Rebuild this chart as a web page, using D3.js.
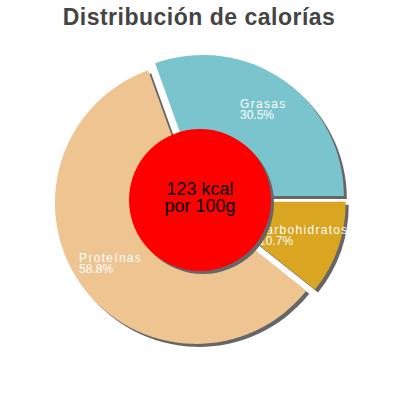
<!DOCTYPE html>
<html>
<head>
<meta charset="utf-8">
<script src="https://cdn.jsdelivr.net/npm/d3@7.9.0/dist/d3.min.js"></script>
<style>
  html, body { margin: 0; padding: 0; background: #fff; }
  svg { display: block; }
  text { font-family: "Liberation Sans", Arial, sans-serif; }
</style>
</head>
<body>
<svg id="chart" width="400" height="400"></svg>
<script>
// data
const categories = ['Grasas', 'carbohidratos', 'Proteínas'];
const percents = [30.5, 10.7, 58.8];
const sliceColors = ['#7ac5cd', '#daa520', '#eec591'];
const centerLines = ['123 kcal', 'por 100g'];
const chartTitle = 'Distribución de calorías';

const width = 400, height = 400;
const cx = 200, cy = 200;
const radius = 141;
const holeRadius = 71;
const sliceOffset = 5;   // every slice is pulled out a bit
const shadowDx = 3, shadowDy = 3;
const labelRadius = 105;

const svg = d3.select('#chart');

const slices = categories.map((name, i) => ({ name, value: percents[i], color: sliceColors[i] }));

// first slice (Grasas) ends at 3 o'clock
const total = d3.sum(percents);
const start = Math.PI / 2 - 2 * Math.PI * percents[0] / total;

const pie = d3.pie().sort(null).value(d => d.value)
  .startAngle(start).endAngle(start + 2 * Math.PI);
const arcs = pie(slices);

const arc = d3.arc().innerRadius(0).outerRadius(radius);

function shift(d) {
  const mid = (d.startAngle + d.endAngle) / 2;
  return [Math.sin(mid) * sliceOffset, -Math.cos(mid) * sliceOffset];
}

const g = svg.append('g').attr('transform', `translate(${cx},${cy})`);

// shadows below everything
g.selectAll('path.shadow')
  .data(arcs)
  .join('path')
  .attr('class', 'shadow')
  .attr('d', arc)
  .attr('fill', '#666')
  .attr('transform', d => {
    const [dx, dy] = shift(d);
    return `translate(${dx + shadowDx},${dy + shadowDy})`;
  });

g.selectAll('path.slice')
  .data(arcs)
  .join('path')
  .attr('class', 'slice')
  .attr('d', arc)
  .attr('fill', d => d.data.color)
  .attr('transform', d => {
    const [dx, dy] = shift(d);
    return `translate(${dx},${dy})`;
  });

// labels: two lines, left aligned inside a block centred on the label point
const labelArc = d3.arc().innerRadius(labelRadius).outerRadius(labelRadius);
arcs.forEach(d => {
  const [dx, dy] = shift(d);
  const [lx, ly] = labelArc.centroid(d);
  const t = g.append('text')
    .attr('fill', '#fff')
    .attr('font-size', 12);
  const l1 = t.append('tspan').attr('letter-spacing', 1.3).text(d.data.name);
  const l2 = t.append('tspan').text(d.data.value.toFixed(1) + '%');
  const w = Math.max(l1.node().getComputedTextLength(), l2.node().getComputedTextLength());
  const x = lx + dx - w / 2;
  const y = ly + dy;
  l1.attr('x', x).attr('y', y - 2);
  l2.attr('x', x).attr('y', y + 9);
});

// red centre disc
g.append('circle')
  .attr('cx', shadowDx).attr('cy', shadowDy)
  .attr('r', holeRadius)
  .attr('fill', '#666');
g.append('circle')
  .attr('r', holeRadius)
  .attr('fill', '#ff0000');

const ct = g.append('text')
  .attr('text-anchor', 'middle')
  .attr('font-size', 18)
  .attr('fill', '#000');
centerLines.forEach((line, i) => {
  ct.append('tspan').attr('x', 0).attr('y', -5 + i * 17).text(line);
});

svg.append('text')
  .attr('x', width / 2 - 1)
  .attr('y', 25)
  .attr('text-anchor', 'middle')
  .attr('font-size', 23)
  .attr('letter-spacing', 0.5)
  .attr('font-weight', 'bold')
  .attr('fill', '#444')
  .text(chartTitle);
</script>
</body>
</html>
